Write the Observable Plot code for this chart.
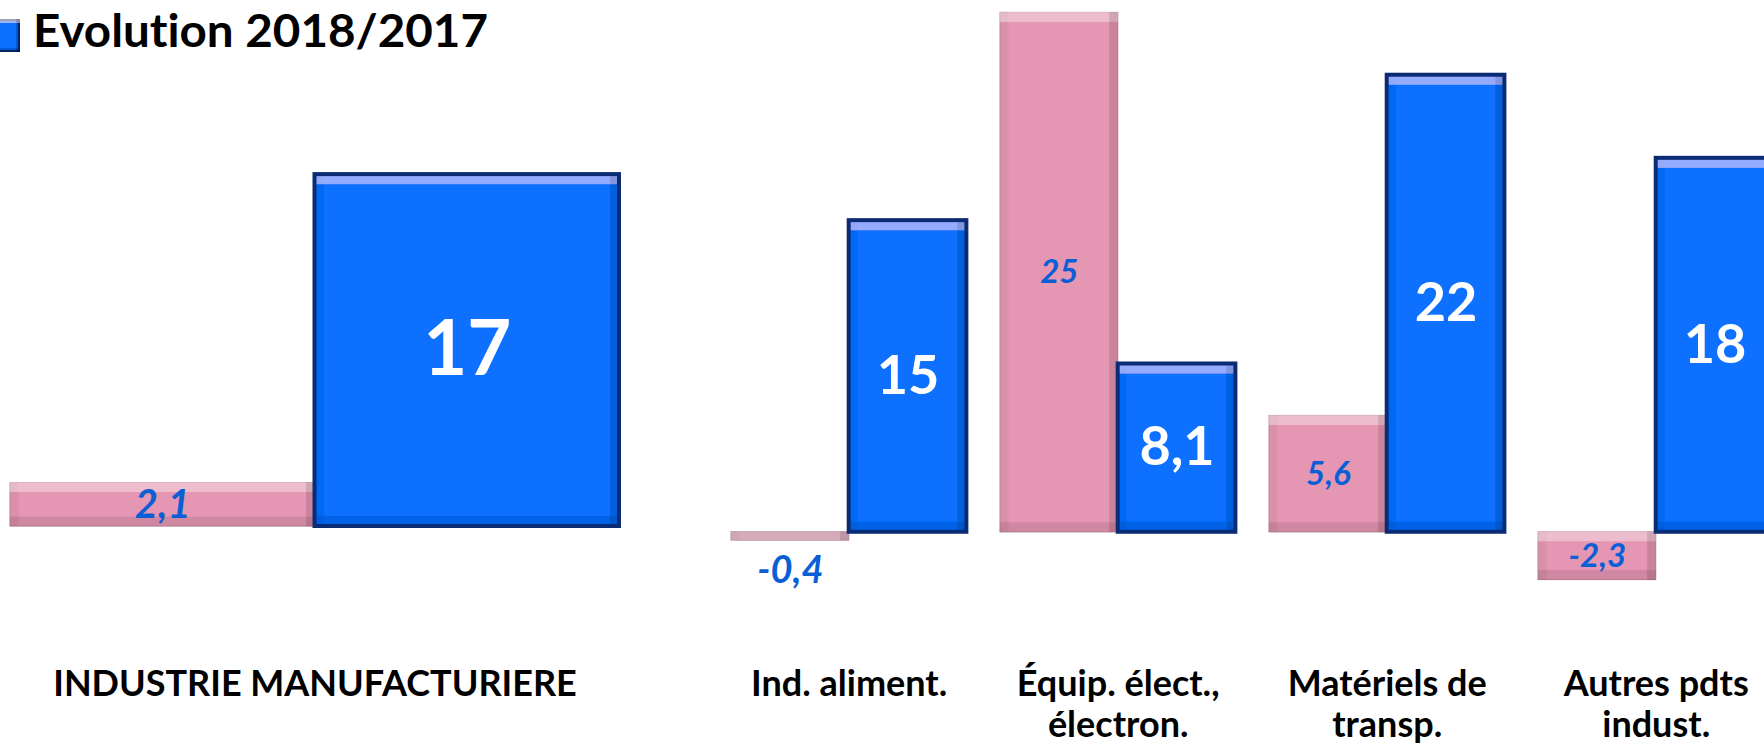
<!DOCTYPE html>
<html><head><meta charset="utf-8">
<script src="https://cdn.jsdelivr.net/npm/d3@7"></script>
<script src="https://cdn.jsdelivr.net/npm/@observablehq/plot@0.6"></script>
<style>
html,body{margin:0;padding:0;background:#fff;overflow:hidden;}
#wrap{position:relative;width:1764px;height:744px;overflow:hidden;background:#fff;}
#wrap > svg{position:absolute;left:0;top:0;}
svg text{font-variant-ligatures:none;}
</style></head><body>
<svg width="0" height="0" style="position:absolute">
<defs>
<filter id="bevel" x="-20%" y="-20%" width="140%" height="140%">
 <feOffset in="SourceAlpha" dy="10" result="sd"/>
 <feComposite in="SourceAlpha" in2="sd" operator="out" result="top"/>
 <feOffset in="SourceAlpha" dy="-10" result="su"/>
 <feComposite in="SourceAlpha" in2="su" operator="out" result="bot"/>
 <feOffset in="SourceAlpha" dx="-9" result="sl"/>
 <feComposite in="SourceAlpha" in2="sl" operator="out" result="right"/>
 <feOffset in="SourceAlpha" dx="9" result="sr"/>
 <feComposite in="SourceAlpha" in2="sr" operator="out" result="left"/>
 <feFlood flood-color="#ffffff" flood-opacity="0.3"/><feComposite in2="top" operator="in" result="topC"/>
 <feFlood flood-color="#000000" flood-opacity="0.2"/><feComposite in2="bot" operator="in" result="botC"/>
 <feFlood flood-color="#000000" flood-opacity="0.25"/><feComposite in2="right" operator="in" result="rightC"/>
 <feFlood flood-color="#000000" flood-opacity="0.1"/><feComposite in2="left" operator="in" result="leftC"/>
 <feMerge><feMergeNode in="SourceGraphic"/><feMergeNode in="leftC"/><feMergeNode in="topC"/><feMergeNode in="rightC"/><feMergeNode in="botC"/></feMerge>
</filter>
<filter id="bevelSmall" x="-20%" y="-20%" width="140%" height="140%">
 <feOffset in="SourceAlpha" dy="4" result="sd"/>
 <feComposite in="SourceAlpha" in2="sd" operator="out" result="top"/>
 <feOffset in="SourceAlpha" dy="-4" result="su"/>
 <feComposite in="SourceAlpha" in2="su" operator="out" result="bot"/>
 <feOffset in="SourceAlpha" dx="-4" result="sl"/>
 <feComposite in="SourceAlpha" in2="sl" operator="out" result="right"/>
 <feFlood flood-color="#ffffff" flood-opacity="0.35"/><feComposite in2="top" operator="in" result="topC"/>
 <feFlood flood-color="#000000" flood-opacity="0.3"/><feComposite in2="bot" operator="in" result="botC"/>
 <feFlood flood-color="#000000" flood-opacity="0.3"/><feComposite in2="right" operator="in" result="rightC"/>
 <feMerge><feMergeNode in="SourceGraphic"/><feMergeNode in="topC"/><feMergeNode in="rightC"/><feMergeNode in="botC"/></feMerge>
</filter>
</defs></svg>
<div id="wrap"></div>
<script>
// ---- data ----
const seriesKeys = ["Série 1", "Evolution 2018/2017"];
const legendLabel = "Evolution 2018/2017";

const mainCategories = ["INDUSTRIE MANUFACTURIERE"];
const mainPink = [2.1];
const mainBlue = [17];

const sectorCategories = ["Ind. aliment.", "Équip. élect.,\nélectron.", "Matériels de\ntransp.", "Autres pdts\nindust."];
const sectorPink = [-0.4, 25, 5.6, -2.3];
const sectorBlue = [15, 8.1, 22, 18];

const yDomain = [-3, 25];

// ---- helpers ----
const FONT = "Lato, 'Open Sans', sans-serif";
const fmt = v => String(v).replace(".", ",");
function rowsFrom(cats, pink, blue) {
  return cats.flatMap((c, i) => [
    {cat: c, series: seriesKeys[0], value: pink[i]},
    {cat: c, series: seriesKeys[1], value: blue[i]}
  ]);
}

function makeChart(o) {
  const rows = rowsFrom(o.cats, o.pink, o.blue);
  const isPink = d => d.series === seriesKeys[0];
  const isBlue = d => d.series === seriesKeys[1];
  const chart = Plot.plot({
    width: o.width, height: 744,
    marginLeft: o.marginLeft, marginRight: o.marginRight,
    marginTop: o.marginTop, marginBottom: o.marginBottom,
    style: {background: "transparent", maxWidth: "none", overflow: "visible", fontFamily: FONT},
    fx: {domain: o.cats, paddingInner: o.fxPadding, paddingOuter: 0, round: false, axis: null, label: null},
    x: {domain: seriesKeys, padding: 0, round: false, axis: null},
    y: {domain: yDomain, axis: null},
    marks: [
      Plot.barY(rows, {filter: isPink, fx: "cat", x: "series", y: "value",
        fill: "#e596b2", stroke: "#c98aa0", strokeWidth: 1, className: "bevel"}),
      Plot.barY(rows, {filter: isBlue, fx: "cat", x: "series", y: "value",
        fill: "#0770ff", className: "bevel"}),
      Plot.barY(rows, {filter: isBlue, fx: "cat", x: "series", y: "value",
        fill: "none", stroke: "#0b2c74", strokeWidth: 4}),
      Plot.text(rows, {filter: d => isPink(d) && Math.abs(d.value) >= 1, fx: "cat", x: "series",
        y: d => d.value / 2, text: d => fmt(d.value), fill: "#0b5fd6",
        fontSize: o.pinkSize, fontWeight: "bold", fontStyle: "italic"}),
      Plot.text(rows, {filter: d => isPink(d) && Math.abs(d.value) < 1, fx: "cat", x: "series",
        y: "value", dy: 30, text: d => fmt(d.value), fill: "#0b5fd6",
        fontSize: o.smallSize, fontWeight: "bold", fontStyle: "italic"}),
      Plot.text(rows, {filter: isBlue, fx: "cat", x: "series",
        y: d => d.value / 2, text: d => fmt(d.value), fill: "white",
        fontSize: o.blueSize, fontWeight: "bold"}),
      Plot.axisFx({anchor: "bottom", tickSize: 0, tickPadding: o.tickPadding,
        fontSize: 36, fontWeight: "bold", color: "black", label: null, lineHeight: 1.12})
    ]
  });
  chart.querySelectorAll('g.bevel rect, .bevel rect').forEach(r => r.setAttribute("filter", "url(#bevel)"));
  return chart;
}

const wrap = document.getElementById("wrap");

const chartMain = makeChart({
  cats: mainCategories, pink: mainPink, blue: mainBlue,
  width: 640, marginLeft: 10, marginRight: 21, marginTop: 8.5, marginBottom: 155.9,
  fxPadding: 0, pinkSize: 40, smallSize: 40, blueSize: 76, tickPadding: 79
});
wrap.appendChild(chartMain);

const chartSectors = makeChart({
  cats: sectorCategories, pink: sectorPink, blue: sectorBlue,
  width: 1784, marginLeft: 731, marginRight: 10.6, marginTop: 12.4, marginBottom: 149.9,
  fxPadding: 0.125, pinkSize: 33, smallSize: 38, blueSize: 54, tickPadding: 73
});
wrap.appendChild(chartSectors);

// legend (title)
const ns = "http://www.w3.org/2000/svg";
const leg = document.createElementNS(ns, "svg");
leg.setAttribute("width", 600); leg.setAttribute("height", 70);
const sq = document.createElementNS(ns, "rect");
sq.setAttribute("x", -12); sq.setAttribute("y", 20); sq.setAttribute("width", 31); sq.setAttribute("height", 31);
sq.setAttribute("fill", "#0770ff"); sq.setAttribute("stroke", "#0b2c74"); sq.setAttribute("stroke-width", 2);
sq.setAttribute("filter", "url(#bevelSmall)");
leg.appendChild(sq);
const tt = document.createElementNS(ns, "text");
tt.setAttribute("x", 33); tt.setAttribute("y", 47);
tt.setAttribute("font-family", FONT); tt.setAttribute("font-weight", "bold"); tt.setAttribute("font-size", 45);
tt.setAttribute("textLength", 455); tt.setAttribute("lengthAdjust", "spacingAndGlyphs");
tt.textContent = legendLabel;
leg.appendChild(tt);
wrap.appendChild(leg);
</script>
</body></html>
